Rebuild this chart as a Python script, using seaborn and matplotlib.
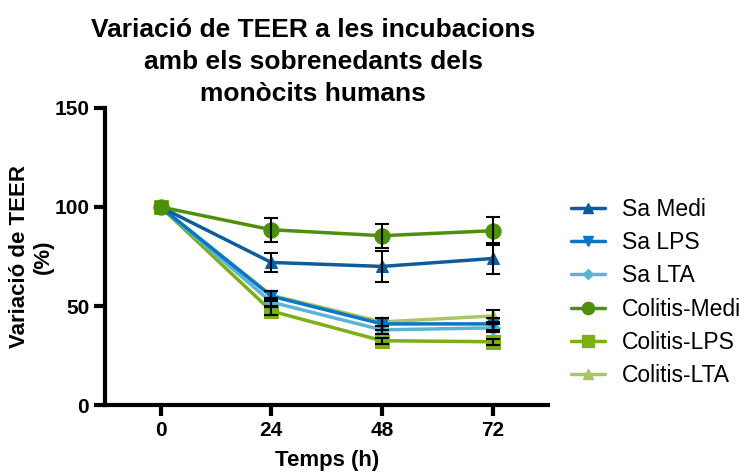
import matplotlib
matplotlib.use("Agg")
import matplotlib.pyplot as plt
import seaborn as sns
import pandas as pd
from matplotlib.lines import Line2D

sns.set_theme(style="ticks")
plt.rcParams['font.family'] = ['Liberation Sans', 'DejaVu Sans']
plt.rcParams.update({"text.color": "black", "axes.labelcolor": "black",
                     "xtick.color": "black", "ytick.color": "black",
                     "axes.edgecolor": "black"})

times = [0, 24, 48, 72]
series = ["Sa Medi", "Sa LPS", "Sa LTA", "Colitis-Medi", "Colitis-LPS", "Colitis-LTA"]
sa_medi = [100, 72, 70, 74]
sa_lps = [100, 55, 41, 41]
sa_lta = [100, 52, 38, 39]
col_medi = [100, 88.5, 85.5, 88]
col_lps = [100, 47.5, 32.5, 32]
col_lta = [100, 55.5, 42, 45]
err_sa_medi = [0, 5, 8, 8]
err_sa_lps = [0, 2.5, 3, 3]
err_sa_lta = [0, 2, 2, 2]
err_col_medi = [0, 6, 6, 7]
err_col_lps = [0, 2, 1.5, 1.5]
err_col_lta = [0, 2, 2, 3]
yticks = [0, 50, 100, 150]

values = [sa_medi, sa_lps, sa_lta, col_medi, col_lps, col_lta]
errors = [err_sa_medi, err_sa_lps, err_sa_lta, err_col_medi, err_col_lps, err_col_lta]
colors = ["#105C9A", "#0B75C6", "#5AB4D6", "#4E8F0B", "#7CAF18", "#A9C46B"]
markers = ["^", "v", "D", "o", "s", "^"]
msizes = [9, 9, 7, 11, 10, 9]

rows = []
for name, vals in zip(series, values):
    for t, v in zip(times, vals):
        rows.append({"t": t, "v": v, "s": name})
df = pd.DataFrame(rows)

fig = plt.figure(figsize=(7.51, 4.75), dpi=100)
ax = fig.add_axes([0.14, 0.147, 0.59, 0.626])

draw_order = [5, 4, 2, 1, 0, 3]
for i in draw_order:
    sub = df[df.s == series[i]]
    sns.lineplot(data=sub, x="t", y="v", ax=ax, color=colors[i], marker=markers[i],
                 markersize=msizes[i], markeredgecolor=colors[i], linewidth=2.5,
                 legend=False, zorder=2)
for i in draw_order:
    ax.errorbar(times[1:], values[i][1:], yerr=errors[i][1:], fmt="none",
                ecolor="black", elinewidth=1.5, capsize=5, capthick=1.5, zorder=3)

ax.set_xlim(-12, 84)
ax.set_ylim(0, 150)
ax.set_xticks(times)
ax.set_yticks(yticks)
for sp in ["top", "right"]:
    ax.spines[sp].set_visible(False)
for sp in ["left", "bottom"]:
    ax.spines[sp].set_linewidth(3)
ax.tick_params(axis="both", width=3, length=8, direction="out")
for lab in ax.get_xticklabels() + ax.get_yticklabels():
    lab.set_fontweight("bold")
    lab.set_fontsize(15)
ax.set_xlabel("Temps (h)", fontsize=16, fontweight="bold", labelpad=7)
ax.set_ylabel("Variació de TEER\n(%)", fontsize=16, fontweight="bold", labelpad=0,
              linespacing=1.2)
ax.set_title("Variació de TEER a les incubacions\namb els sobrenedants dels\nmonòcits humans",
             fontsize=19, fontweight="bold", x=0.47, pad=5, linespacing=1.42)

handles = [Line2D([0], [0], color=c, marker=m, markersize=ms * 0.8, linewidth=2.5,
                  markeredgecolor=c) for c, m, ms in zip(colors, markers, msizes)]
ax.legend(handles, series, loc="upper left", bbox_to_anchor=(1.03, 0.728), frameon=False,
          fontsize=16.5, handlelength=1.5, labelspacing=0.45, handletextpad=0.75,
          borderaxespad=0)

fig.savefig("out.png", dpi=100)
